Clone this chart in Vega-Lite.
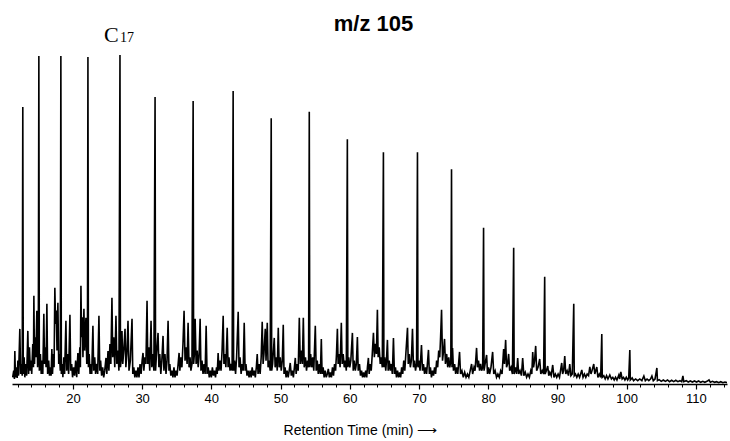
{
"$schema":"https://vega.github.io/schema/vega-lite/v6.json",
"width":715,"height":334,
"autosize":{"type":"none"},
"padding":{"left":12,"top":50,"right":3,"bottom":57},
"background":"white",
"title":{"text":"m/z 105","font":"Liberation Sans","fontSize":22,"fontWeight":"bold","color":"#000","anchor":"middle","baseline":"alphabetic","offset":0,"dy":29,"dx":4},
"config":{"view":{"stroke":null},"font":"Liberation Sans"},
"resolve":{"axis":{"x":"independent"}},
"layer":[
{"data":{"values":[
{"t":11.3,"v":2},{"t":11.45,"v":4},{"t":11.55,"v":1.5},{"t":11.61,"v":9.9},{"t":11.7,"v":2},{"t":11.85,"v":5},{"t":11.95,"v":1.8},{"t":12.05,"v":7},{"t":12.15,"v":2.5},{"t":12.33,"v":16.5},{"t":12.45,"v":3},{"t":12.55,"v":6},{"t":12.68,"v":2.5},{"t":12.76,"v":82.9},{"t":12.83,"v":3},{"t":12.95,"v":8},{"t":13.05,"v":2},{"t":13.2,"v":6},{"t":13.32,"v":2.5},{"t":13.49,"v":15.9},{"t":13.6,"v":3},{"t":13.72,"v":11},{"t":13.85,"v":4},{"t":13.95,"v":7},{"t":14.05,"v":3},{"t":14.2,"v":12},{"t":14.3,"v":5},{"t":14.36,"v":26.4},{"t":14.45,"v":6},{"t":14.55,"v":14},{"t":14.65,"v":8},{"t":14.79,"v":21.9},{"t":14.9,"v":5},{"t":15.0,"v":10},{"t":15.08,"v":98.2},{"t":15.15,"v":4},{"t":15.3,"v":9},{"t":15.42,"v":3},{"t":15.55,"v":7},{"t":15.65,"v":3},{"t":15.8,"v":21.0},{"t":15.9,"v":6},{"t":16.02,"v":11},{"t":16.12,"v":5},{"t":16.24,"v":24.0},{"t":16.35,"v":3},{"t":16.5,"v":7},{"t":16.62,"v":2.5},{"t":16.75,"v":5},{"t":16.85,"v":2.5},{"t":16.96,"v":10.5},{"t":17.05,"v":3},{"t":17.18,"v":9},{"t":17.28,"v":5},{"t":17.39,"v":28.8},{"t":17.5,"v":18},{"t":17.6,"v":22},{"t":17.7,"v":10},{"t":17.83,"v":24.3},{"t":17.95,"v":6},{"t":18.05,"v":9},{"t":18.18,"v":4},{"t":18.26,"v":98.2},{"t":18.33,"v":3},{"t":18.45,"v":6},{"t":18.55,"v":2},{"t":18.68,"v":8},{"t":18.8,"v":3},{"t":18.99,"v":18.9},{"t":19.1,"v":4},{"t":19.25,"v":9},{"t":19.38,"v":3},{"t":19.57,"v":20.7},{"t":19.68,"v":4},{"t":19.82,"v":6},{"t":19.95,"v":2},{"t":20.1,"v":5},{"t":20.25,"v":2.5},{"t":20.4,"v":7},{"t":20.55,"v":2},{"t":20.72,"v":9.3},{"t":20.85,"v":3},{"t":21.0,"v":11},{"t":21.08,"v":5},{"t":21.16,"v":29.4},{"t":21.25,"v":14},{"t":21.35,"v":20},{"t":21.45,"v":8},{"t":21.59,"v":22.5},{"t":21.7,"v":10},{"t":21.88,"v":19.8},{"t":22.0,"v":6},{"t":22.1,"v":8},{"t":22.17,"v":97.9},{"t":22.24,"v":5},{"t":22.35,"v":9},{"t":22.48,"v":3},{"t":22.6,"v":6},{"t":22.72,"v":3},{"t":22.89,"v":17.4},{"t":23.0,"v":4},{"t":23.15,"v":8},{"t":23.28,"v":3},{"t":23.45,"v":6},{"t":23.58,"v":3},{"t":23.76,"v":20.4},{"t":23.88,"v":4},{"t":24.0,"v":7},{"t":24.15,"v":2.5},{"t":24.3,"v":5},{"t":24.45,"v":2},{"t":24.6,"v":4},{"t":24.78,"v":7.8},{"t":24.9,"v":3},{"t":25.07,"v":9.9},{"t":25.2,"v":4},{"t":25.35,"v":12},{"t":25.48,"v":6},{"t":25.64,"v":25.8},{"t":25.75,"v":8},{"t":25.9,"v":14},{"t":26.05,"v":5},{"t":26.22,"v":20.4},{"t":26.35,"v":6},{"t":26.5,"v":10},{"t":26.65,"v":4},{"t":26.8,"v":98.5},{"t":26.87,"v":5},{"t":27.0,"v":8},{"t":27.09,"v":15.9},{"t":27.2,"v":6},{"t":27.35,"v":10},{"t":27.53,"v":16.5},{"t":27.65,"v":5},{"t":27.8,"v":9},{"t":27.96,"v":18.9},{"t":28.1,"v":4},{"t":28.3,"v":7},{"t":28.54,"v":19.5},{"t":28.65,"v":3},{"t":28.8,"v":5},{"t":28.95,"v":2},{"t":29.1,"v":4},{"t":29.25,"v":2},{"t":29.4,"v":5},{"t":29.55,"v":2},{"t":29.7,"v":6},{"t":29.85,"v":3},{"t":30.0,"v":7},{"t":30.13,"v":9.3},{"t":30.25,"v":4},{"t":30.4,"v":8},{"t":30.55,"v":6},{"t":30.71,"v":24.9},{"t":30.82,"v":6},{"t":30.95,"v":11},{"t":31.1,"v":4},{"t":31.29,"v":18.9},{"t":31.4,"v":5},{"t":31.55,"v":9},{"t":31.7,"v":4},{"t":31.87,"v":85.9},{"t":31.94,"v":4},{"t":32.05,"v":8},{"t":32.3,"v":15.3},{"t":32.42,"v":5},{"t":32.55,"v":9},{"t":32.7,"v":3},{"t":32.85,"v":7},{"t":33.02,"v":14.4},{"t":33.15,"v":4},{"t":33.3,"v":9},{"t":33.45,"v":3},{"t":33.6,"v":7},{"t":33.75,"v":18.9},{"t":33.88,"v":4},{"t":34.0,"v":6},{"t":34.15,"v":2.5},{"t":34.3,"v":4},{"t":34.45,"v":2},{"t":34.6,"v":5},{"t":34.75,"v":2},{"t":34.9,"v":4},{"t":35.05,"v":2.5},{"t":35.2,"v":6},{"t":35.34,"v":9.3},{"t":35.45,"v":4},{"t":35.6,"v":8},{"t":35.75,"v":5},{"t":35.9,"v":12},{"t":36.06,"v":21.9},{"t":36.2,"v":7},{"t":36.35,"v":11},{"t":36.5,"v":6},{"t":36.64,"v":18.3},{"t":36.78,"v":5},{"t":36.92,"v":8},{"t":37.05,"v":4},{"t":37.2,"v":6},{"t":37.37,"v":84.7},{"t":37.44,"v":6},{"t":37.55,"v":9},{"t":37.66,"v":19.5},{"t":37.8,"v":6},{"t":37.95,"v":10},{"t":38.1,"v":5},{"t":38.22,"v":8},{"t":38.38,"v":19.5},{"t":38.5,"v":4},{"t":38.65,"v":7},{"t":38.8,"v":3},{"t":38.95,"v":6},{"t":39.1,"v":3},{"t":39.25,"v":17.4},{"t":39.38,"v":3},{"t":39.55,"v":5},{"t":39.7,"v":2},{"t":39.85,"v":4},{"t":40.0,"v":2},{"t":40.15,"v":5},{"t":40.3,"v":2.5},{"t":40.45,"v":4},{"t":40.6,"v":2},{"t":40.75,"v":5},{"t":40.85,"v":3},{"t":40.98,"v":9.3},{"t":41.1,"v":4},{"t":41.25,"v":7},{"t":41.4,"v":4},{"t":41.55,"v":10},{"t":41.71,"v":20.4},{"t":41.82,"v":6},{"t":41.95,"v":9},{"t":42.1,"v":5},{"t":42.29,"v":16.8},{"t":42.42,"v":5},{"t":42.55,"v":8},{"t":42.7,"v":4},{"t":42.85,"v":6},{"t":43.0,"v":4},{"t":43.15,"v":87.7},{"t":43.22,"v":4},{"t":43.35,"v":7},{"t":43.5,"v":3},{"t":43.65,"v":8},{"t":43.88,"v":21.6},{"t":44.0,"v":5},{"t":44.15,"v":8},{"t":44.3,"v":3},{"t":44.45,"v":6},{"t":44.6,"v":4},{"t":44.75,"v":18.3},{"t":44.88,"v":4},{"t":45.0,"v":6},{"t":45.15,"v":2.5},{"t":45.3,"v":4},{"t":45.45,"v":2},{"t":45.6,"v":4},{"t":45.75,"v":2},{"t":45.9,"v":5},{"t":46.05,"v":2.5},{"t":46.2,"v":4},{"t":46.35,"v":2},{"t":46.5,"v":5},{"t":46.63,"v":9.0},{"t":46.75,"v":3},{"t":46.9,"v":6},{"t":47.05,"v":3},{"t":47.2,"v":8},{"t":47.35,"v":18.6},{"t":47.48,"v":6},{"t":47.6,"v":9},{"t":47.79,"v":16.5},{"t":47.9,"v":7},{"t":48.08,"v":18.3},{"t":48.2,"v":5},{"t":48.35,"v":7},{"t":48.5,"v":4},{"t":48.65,"v":79.6},{"t":48.72,"v":4},{"t":48.85,"v":6},{"t":49.09,"v":13.8},{"t":49.22,"v":5},{"t":49.4,"v":8},{"t":49.52,"v":4},{"t":49.67,"v":16.8},{"t":49.8,"v":5},{"t":49.95,"v":8},{"t":50.1,"v":4},{"t":50.25,"v":7},{"t":50.39,"v":17.7},{"t":50.5,"v":3},{"t":50.65,"v":5},{"t":50.8,"v":2},{"t":50.95,"v":4},{"t":51.1,"v":2},{"t":51.25,"v":4},{"t":51.4,"v":6.3},{"t":51.55,"v":2.5},{"t":51.7,"v":4},{"t":51.85,"v":2},{"t":52.0,"v":5},{"t":52.13,"v":7.8},{"t":52.25,"v":3},{"t":52.4,"v":6},{"t":52.55,"v":4},{"t":52.71,"v":19.8},{"t":52.85,"v":6},{"t":53.0,"v":10},{"t":53.15,"v":6},{"t":53.29,"v":19.8},{"t":53.42,"v":5},{"t":53.6,"v":8},{"t":53.75,"v":4},{"t":53.9,"v":7},{"t":54.05,"v":5},{"t":54.15,"v":81.5},{"t":54.22,"v":5},{"t":54.35,"v":9},{"t":54.5,"v":5},{"t":54.65,"v":8},{"t":54.8,"v":4},{"t":55.02,"v":17.4},{"t":55.15,"v":4},{"t":55.3,"v":7},{"t":55.45,"v":3},{"t":55.6,"v":6},{"t":55.75,"v":3},{"t":55.89,"v":13.5},{"t":56.0,"v":3},{"t":56.15,"v":5},{"t":56.3,"v":2},{"t":56.45,"v":4},{"t":56.6,"v":2},{"t":56.75,"v":3},{"t":56.9,"v":4.5},{"t":57.05,"v":2},{"t":57.2,"v":3.5},{"t":57.35,"v":2},{"t":57.5,"v":5},{"t":57.65,"v":2.5},{"t":57.8,"v":6},{"t":57.95,"v":4},{"t":58.08,"v":9},{"t":58.21,"v":16.5},{"t":58.32,"v":6},{"t":58.45,"v":9},{"t":58.6,"v":5},{"t":58.78,"v":18.3},{"t":58.9,"v":6},{"t":59.05,"v":9},{"t":59.2,"v":5},{"t":59.35,"v":7},{"t":59.5,"v":4},{"t":59.65,"v":73.3},{"t":59.72,"v":5},{"t":59.85,"v":8},{"t":60.0,"v":5},{"t":60.15,"v":7},{"t":60.38,"v":15.3},{"t":60.5,"v":4},{"t":60.65,"v":7},{"t":60.8,"v":4},{"t":60.95,"v":6},{"t":61.1,"v":14.1},{"t":61.22,"v":4},{"t":61.4,"v":6},{"t":61.55,"v":2.5},{"t":61.7,"v":4},{"t":61.85,"v":2},{"t":62.0,"v":3.5},{"t":62.15,"v":2},{"t":62.3,"v":4},{"t":62.45,"v":2},{"t":62.55,"v":5},{"t":62.69,"v":7.8},{"t":62.8,"v":3},{"t":62.95,"v":6},{"t":63.1,"v":4},{"t":63.25,"v":9},{"t":63.42,"v":15.3},{"t":63.55,"v":8},{"t":63.7,"v":12},{"t":63.85,"v":9},{"t":63.99,"v":22.2},{"t":64.1,"v":8},{"t":64.25,"v":11},{"t":64.4,"v":6},{"t":64.55,"v":8},{"t":64.7,"v":5},{"t":64.86,"v":69.4},{"t":64.93,"v":5},{"t":65.05,"v":8},{"t":65.2,"v":4},{"t":65.3,"v":7},{"t":65.44,"v":13.2},{"t":65.55,"v":4},{"t":65.7,"v":7},{"t":65.85,"v":4},{"t":66.0,"v":6},{"t":66.15,"v":3},{"t":66.31,"v":13.8},{"t":66.45,"v":3},{"t":66.6,"v":5},{"t":66.75,"v":2},{"t":66.9,"v":4},{"t":67.05,"v":2},{"t":67.2,"v":3.5},{"t":67.35,"v":2},{"t":67.5,"v":5},{"t":67.65,"v":3},{"t":67.8,"v":7},{"t":67.95,"v":4},{"t":68.1,"v":9},{"t":68.34,"v":16.8},{"t":68.45,"v":6},{"t":68.6,"v":9},{"t":68.75,"v":5},{"t":68.9,"v":7},{"t":69.06,"v":16.5},{"t":69.2,"v":5},{"t":69.35,"v":7},{"t":69.5,"v":4},{"t":69.65,"v":6},{"t":69.78,"v":69.4},{"t":69.85,"v":5},{"t":70.0,"v":7},{"t":70.15,"v":4},{"t":70.36,"v":11.7},{"t":70.5,"v":4},{"t":70.65,"v":6},{"t":70.8,"v":3},{"t":70.95,"v":5},{"t":71.1,"v":3},{"t":71.37,"v":10.2},{"t":71.5,"v":3},{"t":71.65,"v":5},{"t":71.8,"v":2},{"t":71.95,"v":4},{"t":72.1,"v":2.5},{"t":72.25,"v":5},{"t":72.4,"v":3},{"t":72.55,"v":7},{"t":72.7,"v":5},{"t":72.85,"v":10},{"t":73.0,"v":8},{"t":73.12,"v":14},{"t":73.26,"v":22.2},{"t":73.4,"v":7},{"t":73.55,"v":10},{"t":73.69,"v":13.5},{"t":73.82,"v":6},{"t":74.0,"v":9},{"t":74.15,"v":5},{"t":74.3,"v":8},{"t":74.45,"v":5},{"t":74.6,"v":7},{"t":74.7,"v":64.3},{"t":74.77,"v":5},{"t":74.85,"v":10.8},{"t":74.98,"v":4},{"t":75.15,"v":6},{"t":75.3,"v":3},{"t":75.45,"v":5},{"t":75.6,"v":3},{"t":75.86,"v":9.6},{"t":76.0,"v":3},{"t":76.2,"v":4},{"t":76.4,"v":2},{"t":76.6,"v":3.5},{"t":76.8,"v":2},{"t":77.0,"v":3},{"t":77.2,"v":2},{"t":77.4,"v":4},{"t":77.6,"v":6.0},{"t":77.75,"v":3},{"t":77.95,"v":5},{"t":78.1,"v":4},{"t":78.32,"v":10.8},{"t":78.45,"v":5},{"t":78.6,"v":7},{"t":78.75,"v":4},{"t":78.9,"v":6},{"t":79.05,"v":4},{"t":79.2,"v":5},{"t":79.33,"v":46.8},{"t":79.4,"v":4},{"t":79.55,"v":6},{"t":79.77,"v":8.7},{"t":79.9,"v":3},{"t":80.05,"v":5},{"t":80.2,"v":3},{"t":80.4,"v":5},{"t":80.64,"v":9.6},{"t":80.8,"v":3},{"t":81.0,"v":4},{"t":81.2,"v":2},{"t":81.4,"v":3},{"t":81.6,"v":2},{"t":81.8,"v":4},{"t":82.0,"v":3},{"t":82.23,"v":10.5},{"t":82.35,"v":6},{"t":82.52,"v":13.2},{"t":82.65,"v":5},{"t":82.8,"v":6},{"t":82.95,"v":9.0},{"t":83.1,"v":4},{"t":83.3,"v":5},{"t":83.5,"v":3},{"t":83.68,"v":40.8},{"t":83.75,"v":3},{"t":83.95,"v":5},{"t":84.1,"v":3},{"t":84.26,"v":7.8},{"t":84.4,"v":3},{"t":84.6,"v":4},{"t":84.8,"v":2.5},{"t":84.98,"v":7.8},{"t":85.15,"v":2.5},{"t":85.35,"v":3.5},{"t":85.55,"v":2},{"t":85.75,"v":3},{"t":85.95,"v":2},{"t":86.15,"v":4},{"t":86.3,"v":3},{"t":86.43,"v":9.6},{"t":86.55,"v":5},{"t":86.7,"v":7},{"t":86.86,"v":11.4},{"t":87.0,"v":4},{"t":87.2,"v":5},{"t":87.44,"v":7.5},{"t":87.6,"v":3},{"t":87.8,"v":4},{"t":88.0,"v":3},{"t":88.16,"v":32.1},{"t":88.23,"v":3},{"t":88.4,"v":4},{"t":88.6,"v":5.4},{"t":88.75,"v":2.5},{"t":88.9,"v":3.5},{"t":89.1,"v":2.5},{"t":89.32,"v":5.7},{"t":89.5,"v":2},{"t":89.7,"v":3},{"t":89.9,"v":2},{"t":90.1,"v":3},{"t":90.3,"v":2},{"t":90.45,"v":4},{"t":90.62,"v":6.3},{"t":90.75,"v":3},{"t":90.9,"v":4},{"t":91.06,"v":8.4},{"t":91.2,"v":3},{"t":91.4,"v":4},{"t":91.6,"v":2.5},{"t":91.78,"v":6.0},{"t":91.95,"v":2.5},{"t":92.15,"v":3},{"t":92.36,"v":24.0},{"t":92.43,"v":2.5},{"t":92.6,"v":3},{"t":92.8,"v":2},{"t":93.0,"v":3},{"t":93.2,"v":2},{"t":93.35,"v":3},{"t":93.52,"v":4.2},{"t":93.7,"v":2},{"t":93.9,"v":3},{"t":94.1,"v":2},{"t":94.3,"v":3},{"t":94.5,"v":2.5},{"t":94.68,"v":5.1},{"t":94.85,"v":3},{"t":95.0,"v":4},{"t":95.25,"v":6.0},{"t":95.4,"v":3},{"t":95.69,"v":5.1},{"t":95.85,"v":2},{"t":96.05,"v":3},{"t":96.25,"v":2},{"t":96.41,"v":15.0},{"t":96.48,"v":2},{"t":96.7,"v":2.5},{"t":96.9,"v":1.5},{"t":97.1,"v":2.5},{"t":97.3,"v":1.5},{"t":97.57,"v":2.7},{"t":97.8,"v":1.5},{"t":98.0,"v":2},{"t":98.2,"v":1.2},{"t":98.4,"v":2},{"t":98.6,"v":1.2},{"t":98.87,"v":2.7},{"t":99.0,"v":1.5},{"t":99.16,"v":3.6},{"t":99.35,"v":1.5},{"t":99.55,"v":2},{"t":99.75,"v":1.2},{"t":99.95,"v":2},{"t":100.15,"v":1.2},{"t":100.3,"v":1.8},{"t":100.46,"v":10.2},{"t":100.53,"v":1.2},{"t":100.8,"v":1.8},{"t":101.0,"v":1},{"t":101.3,"v":1.5},{"t":101.6,"v":1},{"t":101.9,"v":1.5},{"t":102.2,"v":1},{"t":102.49,"v":2.4},{"t":102.7,"v":1},{"t":102.95,"v":1.5},{"t":103.2,"v":1},{"t":103.45,"v":1.5},{"t":103.65,"v":2.4},{"t":103.85,"v":1},{"t":104.1,"v":1.5},{"t":104.37,"v":4.8},{"t":104.45,"v":1},{"t":104.7,"v":1.3},{"t":105.0,"v":0.8},{"t":105.3,"v":1.2},{"t":105.6,"v":0.8},{"t":105.9,"v":1.2},{"t":106.2,"v":0.7},{"t":106.5,"v":1.1},{"t":106.8,"v":0.7},{"t":107.1,"v":1.1},{"t":107.4,"v":0.7},{"t":107.7,"v":1},{"t":107.95,"v":0.7},{"t":108.13,"v":2.4},{"t":108.25,"v":0.7},{"t":108.6,"v":1},{"t":108.9,"v":0.6},{"t":109.2,"v":0.9},{"t":109.5,"v":0.6},{"t":109.8,"v":0.9},{"t":110.1,"v":0.6},{"t":110.4,"v":0.9},{"t":110.7,"v":0.5},{"t":111.0,"v":0.8},{"t":111.3,"v":0.5},{"t":111.6,"v":0.8},{"t":111.9,"v":1.2},{"t":112.1,"v":0.5},{"t":112.4,"v":0.8},{"t":112.7,"v":0.5},{"t":113.0,"v":0.7},{"t":113.3,"v":0.4},{"t":113.6,"v":0.7},{"t":113.9,"v":0.4},{"t":114.2,"v":0.6},{"t":114.5,"v":0.4}
]},
"mark":{"type":"line","color":"#000","strokeWidth":1.6,"clip":true,"interpolate":"linear"},
"encoding":{
"x":{"field":"t","type":"quantitative","scale":{"domain":[11.2,114.5],"nice":false,"zero":false},
"axis":{"values":[20,30,40,50,60,70,80,90,100,110],"grid":false,"domain":true,"domainColor":"#000","domainWidth":1.5,"tickColor":"#000","tickWidth":1.2,"tickSize":5,"labelFont":"Liberation Sans","labelFontSize":13,"labelColor":"#000","labelPadding":3,"labelFlush":false,"title":"Retention Time (min)   ⟶","titleFont":"Liberation Sans","titleFontSize":14,"titleFontWeight":"normal","titleColor":"#000","titleX":348,"titleY":50,"titleAlign":"center","titleBaseline":"alphabetic","orient":"bottom"}},
"y":{"field":"v","type":"quantitative","scale":{"domain":[0,100],"nice":false},"axis":null}
}},
{"data":{"values":[{"t":24.48,"v":102.4,"s":"C"}]},
"mark":{"type":"text","font":"Liberation Serif","fontSize":22,"align":"left","baseline":"alphabetic","color":"#000"},
"encoding":{
"x":{"field":"t","type":"quantitative","scale":{"domain":[11.2,114.5],"nice":false,"zero":false},
"axis":{"values":[12,14,16,18,22,24,26,28,32,34,36,38,42,44,46,48,52,54,56,58,62,64,66,68,72,74,76,78,82,84,86,88,92,94,96,98,102,104,106,108,112,114],"labels":false,"domain":false,"grid":false,"tickColor":"#000","tickWidth":1,"tickSize":3,"title":null,"orient":"bottom"}},
"y":{"field":"v","type":"quantitative","scale":{"domain":[0,100],"nice":false},"axis":null},
"text":{"field":"s"}
}},
{"data":{"values":[{"t":26.79,"v":102.4,"s":"17"}]},
"mark":{"type":"text","font":"Liberation Serif","fontSize":14,"align":"left","baseline":"alphabetic","color":"#000"},
"encoding":{
"x":{"field":"t","type":"quantitative","scale":{"domain":[11.2,114.5],"nice":false,"zero":false},"axis":null},
"y":{"field":"v","type":"quantitative","scale":{"domain":[0,100],"nice":false},"axis":null},
"text":{"field":"s"}
}}
]
}
